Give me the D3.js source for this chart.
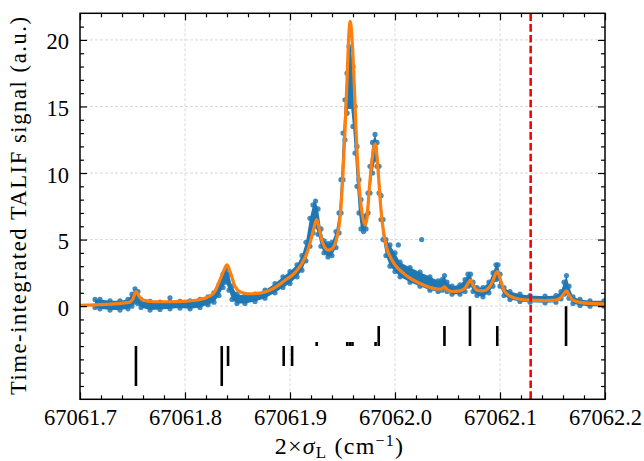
<!doctype html>
<html lang="en">
<head>
<meta charset="UTF-8">
<title>TALIF scan</title>
<script src="https://cdnjs.cloudflare.com/ajax/libs/d3/7.8.5/d3.min.js"></script>
<style>
    html, body { margin: 0; padding: 0; background: #fff; overflow: hidden; }
</style>
</head>
<body>
<svg id="chart" width="644" height="461"></svg>
<script>
// --- data ---
const xMajor = [67061.7, 67061.8, 67061.9, 67062.0, 67062.1, 67062.2];
const yMajor = [0, 5, 10, 15, 20];

// measured points: [wavenumber, lower edge, upper edge] of the blue scatter band
const measured = [
    [67061.7143, -0.1, 0.5], [67061.7190, -0.2, 0.5], [67061.7286, -0.3, 0.4], [67061.7381, -0.3, 0.4],
    [67061.7457, -0.2, 0.5], [67061.7495, 0.0, 0.9], [67061.7524, 0.3, 1.3], [67061.7552, 0.2, 1.1],
    [67061.7581, -0.1, 0.5], [67061.7667, -0.3, 0.35], [67061.7762, -0.25, 0.3], [67061.7857, -0.2, 0.3],
    [67061.7952, -0.15, 0.35], [67061.8048, -0.2, 0.4], [67061.8143, -0.1, 0.5], [67061.8219, 0.1, 0.7],
    [67061.8276, 0.3, 1.0], [67061.8324, 0.8, 1.6], [67061.8362, 1.4, 2.4], [67061.8390, 1.8, 2.75],
    [67061.8419, 1.2, 2.4], [67061.8448, 0.5, 1.5], [67061.8495, 0.2, 0.9], [67061.8571, 0.2, 0.8],
    [67061.8667, 0.35, 0.9], [67061.8762, 0.6, 1.2], [67061.8857, 1.0, 1.7], [67061.8933, 1.4, 2.2],
    [67061.9000, 1.7, 2.6], [67061.9067, 2.2, 3.1], [67061.9114, 2.7, 3.8], [67061.9152, 3.4, 4.8],
    [67061.9190, 4.5, 6.6], [67061.9219, 5.5, 7.6], [67061.9243, 6.0, 7.9], [67061.9267, 5.4, 7.3],
    [67061.9295, 4.5, 5.8], [67061.9324, 4.0, 4.9], [67061.9362, 3.7, 4.7], [67061.9400, 3.8, 4.8],
    [67061.9438, 4.4, 5.6], [67061.9467, 5.5, 7.0], [67061.9486, 7.0, 9.5], [67061.9505, 9.5, 13.0],
    [67061.9524, 12.5, 15.5], [67061.9543, 14.5, 17.5], [67061.9562, 15.0, 19.5], [67061.9581, 15.0, 19.3],
    [67061.9600, 13.5, 18.0], [67061.9619, 11.5, 15.0], [67061.9638, 9.0, 12.0], [67061.9657, 7.0, 9.5],
    [67061.9676, 5.8, 8.0], [67061.9700, 5.6, 6.7], [67061.9724, 5.8, 6.8], [67061.9743, 7.0, 8.5],
    [67061.9762, 8.5, 10.5], [67061.9786, 10.0, 12.3], [67061.9810, 11.0, 12.9], [67061.9829, 10.5, 12.3],
    [67061.9848, 8.5, 10.5], [67061.9867, 6.5, 8.3], [67061.9886, 5.0, 6.5], [67061.9914, 3.8, 5.0],
    [67061.9952, 3.0, 4.6], [67062.0000, 2.6, 4.0], [67062.0048, 2.2, 3.3], [67062.0143, 1.8, 2.9],
    [67062.0238, 1.5, 2.55], [67062.0333, 1.2, 2.2], [67062.0410, 1.1, 1.9], [67062.0448, 1.2, 2.0],
    [67062.0471, 1.4, 2.3], [67062.0495, 1.1, 1.8], [67062.0543, 0.9, 1.5], [67062.0619, 0.9, 1.6],
    [67062.0667, 1.1, 2.0], [67062.0695, 1.5, 2.4], [67062.0719, 1.6, 2.4], [67062.0743, 1.1, 1.8],
    [67062.0781, 0.8, 1.4], [67062.0838, 0.7, 1.4], [67062.0895, 1.0, 1.8], [67062.0933, 1.5, 2.5],
    [67062.0962, 2.0, 3.1], [67062.0981, 2.1, 3.1], [67062.1000, 1.5, 2.4], [67062.1038, 0.8, 1.4],
    [67062.1095, 0.5, 1.1], [67062.1190, 0.35, 0.9], [67062.1286, 0.3, 0.8], [67062.1429, 0.25, 0.75],
    [67062.1533, 0.3, 0.8], [67062.1581, 0.55, 1.1], [67062.1610, 0.9, 1.8], [67062.1633, 1.0, 2.3],
    [67062.1657, 0.6, 1.5], [67062.1695, 0.2, 0.7], [67062.1762, 0.05, 0.5], [67062.1857, 0.0, 0.4],
    [67062.1990, 0.0, 0.4]
];
// stray measured points away from the band
const strays = [[67061.7857, 0.63], [67062.0032, 4.6], [67062.0254, 5.0]];

// fitted curve: [wavenumber, signal]
const fit = [
    [67061.7000, 0.05], [67061.7143, 0.1], [67061.7286, 0.15], [67061.7429, 0.25], [67061.7476, 0.3],
    [67061.7505, 0.55], [67061.7533, 1.1], [67061.7562, 0.75], [67061.7600, 0.45], [67061.7714, 0.33],
    [67061.7857, 0.33], [67061.8019, 0.38], [67061.8143, 0.5], [67061.8219, 0.7], [67061.8276, 1.0],
    [67061.8324, 1.8], [67061.8371, 2.7], [67061.8400, 3.1], [67061.8429, 2.6], [67061.8476, 1.5],
    [67061.8533, 1.05], [67061.8619, 0.93], [67061.8714, 0.98], [67061.8810, 1.2], [67061.8905, 1.65],
    [67061.8962, 2.0], [67061.9019, 2.3], [67061.9067, 2.7], [67061.9114, 3.2], [67061.9162, 4.0],
    [67061.9200, 5.0], [67061.9229, 5.9], [67061.9254, 6.5], [67061.9276, 5.9], [67061.9305, 4.9],
    [67061.9333, 4.4], [67061.9362, 4.2], [67061.9400, 4.3], [67061.9438, 4.9], [67061.9467, 6.0],
    [67061.9486, 7.5], [67061.9505, 10.0], [67061.9524, 13.2], [67061.9543, 17.0], [67061.9562, 20.6],
    [67061.9574, 21.4], [67061.9590, 20.2], [67061.9610, 17.0], [67061.9633, 12.5], [67061.9657, 9.2],
    [67061.9686, 7.0], [67061.9714, 6.1], [67061.9733, 6.6], [67061.9752, 8.5], [67061.9776, 10.6],
    [67061.9800, 12.0], [67061.9812, 12.2], [67061.9829, 11.2], [67061.9848, 9.2], [67061.9867, 7.2],
    [67061.9890, 5.6], [67061.9924, 4.3], [67061.9962, 3.6], [67062.0000, 3.1], [67062.0076, 2.5],
    [67062.0143, 2.1], [67062.0238, 1.7], [67062.0333, 1.4], [67062.0410, 1.28], [67062.0448, 1.3],
    [67062.0471, 1.45], [67062.0495, 1.25], [67062.0543, 1.1], [67062.0619, 1.15], [67062.0667, 1.35],
    [67062.0695, 1.7], [67062.0719, 1.95], [67062.0743, 1.6], [67062.0781, 1.2], [67062.0838, 1.15],
    [67062.0895, 1.4], [67062.0933, 1.9], [67062.0962, 2.5], [67062.0976, 2.6], [67062.1000, 2.1],
    [67062.1038, 1.2], [67062.1095, 0.75], [67062.1190, 0.52], [67062.1286, 0.45], [67062.1429, 0.42],
    [67062.1533, 0.45], [67062.1581, 0.65], [67062.1610, 0.95], [67062.1633, 1.15], [67062.1657, 0.85],
    [67062.1695, 0.45], [67062.1762, 0.28], [67062.1857, 0.2], [67062.2000, 0.17]
];

// line positions, drawn from a common baseline (signed length)
const stickBase = -3;
const sticks = [
    [67061.7533, -3], [67061.8350, -3], [67061.8410, -1.5], [67061.8940, -1.5], [67061.9020, -1.5],
    [67061.9254, 0.3], [67061.9545, 0.3], [67061.9570, 0.3], [67061.9595, 0.3], [67061.9815, 0.3],
    [67061.9845, 1.5], [67062.0471, 1.5], [67062.0714, 3], [67062.0974, 1.5], [67062.1629, 3]
];
const markerLine = 67062.1292;

// --- layout ---
const svg = d3.select("#chart");
const serif = "Liberation Serif, Times New Roman, Times, serif";
const margin = {top: 13.3, right: 39, bottom: 61.7, left: 80};
const width = 644 - margin.left - margin.right;
const height = 461 - margin.top - margin.bottom;
const fontSize = 22.5;

const x = d3.scaleLinear().domain([67061.7, 67062.2]).range([0, width]);
const y = d3.scaleLinear().domain([-7, 22]).range([height, 0]);

const g = svg.append("g").attr("transform", `translate(${margin.left},${margin.top})`);

g.append("clipPath").attr("id", "clip")
    .append("rect").attr("width", width).attr("height", height);

// grid
const xMinor = d3.range(0, 26).map(i => 67061.7 + i * 0.02).filter(v => !xMajor.some(m => Math.abs(m - v) < 1e-6));
const yMinor = d3.range(-6, 22).filter(v => !yMajor.includes(v));

g.append("g").selectAll("line").data(xMajor.slice(1, -1)).enter().append("line")
    .attr("x1", d => x(d)).attr("x2", d => x(d)).attr("y1", 0).attr("y2", height)
    .attr("stroke", "#cfcfcf").attr("stroke-width", 0.8).attr("stroke-dasharray", "3,2");
g.append("g").selectAll("line").data(yMajor).enter().append("line")
    .attr("x1", 0).attr("x2", width).attr("y1", d => y(d)).attr("y2", d => y(d))
    .attr("stroke", "#cfcfcf").attr("stroke-width", 0.8).attr("stroke-dasharray", "3,2");

const plot = g.append("g").attr("clip-path", "url(#clip)");

// measured band
const blue = "#1f77b4";
plot.append("path").datum(measured)
    .attr("fill", blue)
    .attr("d", d3.area().x(d => x(d[0])).y0(d => y(d[1])).y1(d => y(d[2])));
plot.append("g").selectAll("circle")
    .data(measured.flatMap(d => [[d[0], d[1]], [d[0], d[2]]]).concat(strays))
    .enter().append("circle")
    .attr("cx", d => x(d[0])).attr("cy", d => y(d[1])).attr("r", 2.6)
    .attr("fill", blue).attr("fill-opacity", 0.85);

// fit
plot.append("path").datum(fit)
    .attr("fill", "none").attr("stroke", "#ff7f0e").attr("stroke-width", 3.2)
    .attr("stroke-linejoin", "round")
    .attr("d", d3.line().x(d => x(d[0])).y(d => y(d[1])).curve(d3.curveMonotoneX));

// sticks
plot.append("g").selectAll("line").data(sticks).enter().append("line")
    .attr("x1", d => x(d[0])).attr("x2", d => x(d[0]))
    .attr("y1", y(stickBase)).attr("y2", d => y(stickBase + d[1]))
    .attr("stroke", "#000").attr("stroke-width", 2.6);

// marker line
plot.append("line")
    .attr("x1", x(markerLine)).attr("x2", x(markerLine)).attr("y1", 0).attr("y2", height)
    .attr("stroke", "#ff0000").attr("stroke-width", 2.6).attr("stroke-dasharray", "7.6,3.2");

// axes (ticks pointing inward on all four sides)
function tidy(sel) {
    sel.select(".domain").remove();
    sel.attr("font-family", serif);
    sel.selectAll(".tick line").attr("stroke-width", 1.2);
}

g.append("g").attr("transform", `translate(0,${height})`)
    .call(d3.axisBottom(x).tickValues(xMajor).tickSize(-7).tickPadding(10).tickFormat(d3.format(".1f")))
    .call(tidy)
    .call(s => s.selectAll("text").attr("font-size", fontSize).attr("font-family", serif).attr("dy", "0.71em"));
g.append("g").attr("transform", `translate(0,${height})`)
    .call(d3.axisBottom(x).tickValues(xMinor).tickSize(-4).tickFormat("")).call(tidy);
g.append("g")
    .call(d3.axisTop(x).tickValues(xMajor).tickSize(-7).tickFormat("")).call(tidy);
g.append("g")
    .call(d3.axisTop(x).tickValues(xMinor).tickSize(-4).tickFormat("")).call(tidy);

g.append("g")
    .call(d3.axisLeft(y).tickValues(yMajor).tickSize(-7).tickPadding(11).tickFormat(d3.format("d")))
    .call(tidy)
    .call(s => s.selectAll("text").attr("font-size", fontSize).attr("font-family", serif).attr("dy", "0.4em"));
g.append("g")
    .call(d3.axisLeft(y).tickValues(yMinor).tickSize(-4).tickFormat("")).call(tidy);
g.append("g").attr("transform", `translate(${width},0)`)
    .call(d3.axisRight(y).tickValues(yMajor).tickSize(-7).tickFormat("")).call(tidy);
g.append("g").attr("transform", `translate(${width},0)`)
    .call(d3.axisRight(y).tickValues(yMinor).tickSize(-4).tickFormat("")).call(tidy);

// frame
g.append("rect").attr("width", width).attr("height", height)
    .attr("fill", "none").attr("stroke", "#000").attr("stroke-width", 1.5);

// axis titles
const xt = svg.append("text")
    .attr("x", margin.left + width / 2 - 3).attr("y", 454)
    .attr("text-anchor", "middle").attr("font-size", 24).attr("font-family", serif)
    .attr("letter-spacing", 1.2);
xt.append("tspan").text("2×");
xt.append("tspan").attr("font-style", "italic").text("σ");
xt.append("tspan").attr("font-size", 17).attr("dy", 4).text("L");
xt.append("tspan").attr("dy", -4).text(" (cm");
xt.append("tspan").attr("font-size", 16).attr("dy", -8).text("−1");
xt.append("tspan").attr("dy", 8).text(")");

svg.append("text")
    .attr("transform", `translate(26,206) rotate(-90)`)
    .attr("text-anchor", "middle").attr("font-size", fontSize).attr("font-family", serif)
    .attr("textLength", 378).attr("lengthAdjust", "spacing")
    .text("Time-integrated TALIF signal (a.u.)");
</script>
</body>
</html>
